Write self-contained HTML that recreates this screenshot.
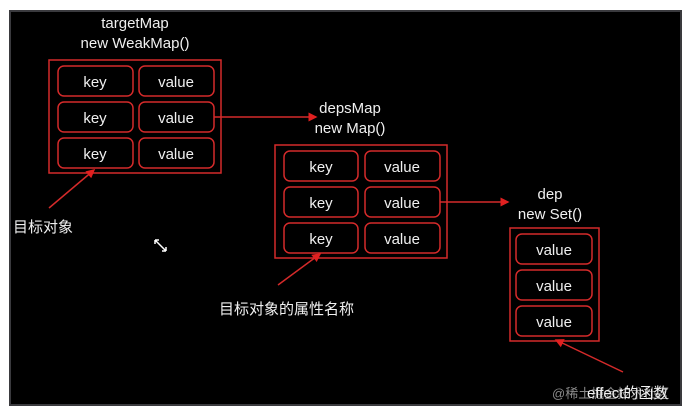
<!DOCTYPE html>
<html><head><meta charset="utf-8"><style>
body{margin:0;background:#fff;width:696px;height:416px;overflow:hidden;}
svg{display:block}
text{font-family:"Liberation Sans","Noto Sans CJK SC",sans-serif;fill:#f0f0f0;}
</style></head><body>
<svg width="696" height="416" viewBox="0 0 696 416">
<defs><marker id="a" markerWidth="6" markerHeight="6" refX="5" refY="3" orient="auto"><path d="M0,0 L6,3 L0,6 z" fill="#e02020"/></marker></defs>
<rect x="9" y="10" width="673" height="396" fill="#3a3a3e"/>
<rect x="11" y="12" width="669" height="392" fill="#000"/>
<g fill="none" stroke="#d42a2a" stroke-width="1.5">
<rect x="49" y="60" width="172" height="113"/>
<rect x="58" y="66" width="75" height="30" rx="6"/><rect x="139" y="66" width="75" height="30" rx="6"/>
<rect x="58" y="102" width="75" height="30" rx="6"/><rect x="139" y="102" width="75" height="30" rx="6"/>
<rect x="58" y="138" width="75" height="30" rx="6"/><rect x="139" y="138" width="75" height="30" rx="6"/>
<rect x="275" y="145" width="172" height="113"/>
<rect x="284" y="151" width="74" height="30" rx="6"/><rect x="365" y="151" width="75" height="30" rx="6"/>
<rect x="284" y="187" width="74" height="30" rx="6"/><rect x="365" y="187" width="75" height="30" rx="6"/>
<rect x="284" y="223" width="74" height="30" rx="6"/><rect x="365" y="223" width="75" height="30" rx="6"/>
<rect x="510" y="228" width="89" height="113"/>
<rect x="516" y="234" width="76" height="30" rx="6"/><rect x="516" y="270" width="76" height="30" rx="6"/><rect x="516" y="306" width="76" height="30" rx="6"/>
<line x1="214" y1="117" x2="316" y2="117" marker-end="url(#a)"/>
<line x1="440" y1="202" x2="508" y2="202" marker-end="url(#a)"/>
<line x1="49" y1="208" x2="94" y2="170" marker-end="url(#a)"/>
<line x1="278" y1="285" x2="320" y2="254" marker-end="url(#a)"/>
<line x1="623" y1="372" x2="556" y2="340" marker-end="url(#a)"/>
</g>
<g font-size="15" text-anchor="middle">
<text x="135" y="28">targetMap</text><text x="135" y="48">new WeakMap()</text>
<text x="350" y="113">depsMap</text><text x="350" y="133">new Map()</text>
<text x="550" y="199">dep</text><text x="550" y="219">new Set()</text>
<text x="95" y="87">key</text><text x="176" y="87">value</text>
<text x="95" y="123">key</text><text x="176" y="123">value</text>
<text x="95" y="159">key</text><text x="176" y="159">value</text>
<text x="321" y="172">key</text><text x="402" y="172">value</text>
<text x="321" y="208">key</text><text x="402" y="208">value</text>
<text x="321" y="244">key</text><text x="402" y="244">value</text>
<text x="554" y="255">value</text><text x="554" y="291">value</text><text x="554" y="327">value</text>
</g>
<g font-size="15">
<text x="13" y="232">目标对象</text>
<text x="219" y="314">目标对象的属性名称</text>
<text x="552" y="398" font-size="13" style="fill:#8a8a8a">@稀土掘金技术社区</text>
<text x="587" y="398">effect的函数</text>
</g>
<path d="M155,240 L166,251 M155,240 l0,4 M155,240 l4,0 M166,251 l0,-4 M166,251 l-4,0" stroke="#fff" stroke-width="1.5" fill="none"/>
</svg>
</body></html>
